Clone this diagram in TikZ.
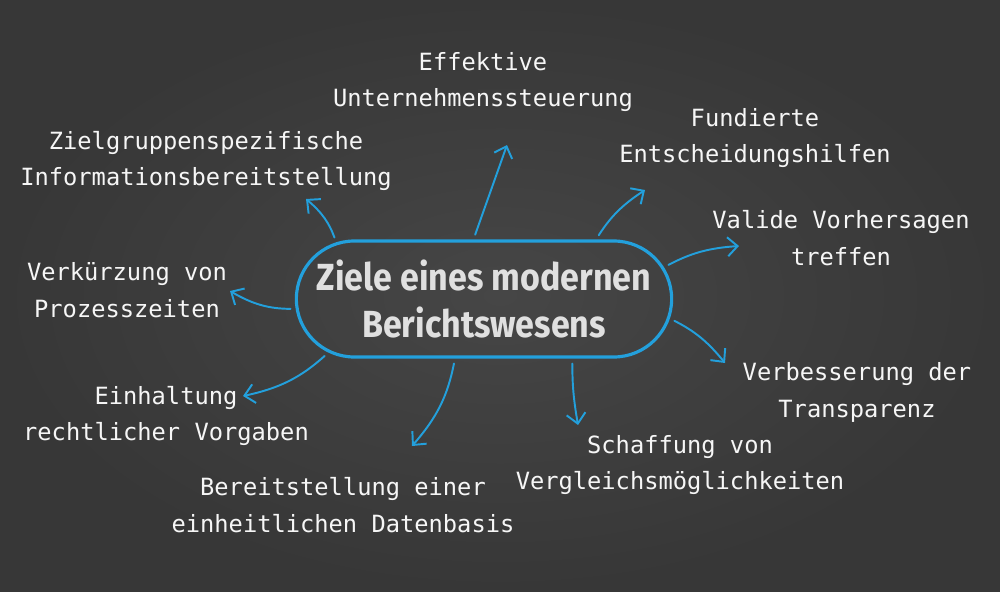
\documentclass[tikz,border=0pt]{standalone}
\usepackage{fontspec}
\usetikzlibrary{arrows.meta, shapes.misc, calc}
\newfontfamily\chalkfont{DejaVu Sans Mono}
\newfontfamily\chalkhead{Fira Sans}[FakeStretch=0.9]
\definecolor{board}{RGB}{55,55,55}
\definecolor{boardlight}{RGB}{70,70,70}
\definecolor{chalkblue}{RGB}{35,160,220}
\definecolor{chalkwhite}{RGB}{246,246,246}
\tikzset{
  goal/.style={font=\chalkfont\fontsize{13.5pt}{21pt}\selectfont, text=chalkwhite, align=center, inner sep=0pt}
}
\tikzset{
  chalkarrow/.style={draw=chalkblue, line width=1.1pt, line cap=round,
    -{Straight Barb[length=2mm,width=3.8mm]}, shorten <=1mm}
}

\begin{document}
\begin{tikzpicture}[x=0.2mm, y=-0.2mm]
  % board
  \shade[inner color=boardlight, outer color=board] (0,0) rectangle (1000,591);
  \useasboundingbox (0,0) rectangle (1000,591);
  % centre
  \node[rounded rectangle, draw=chalkblue, line width=1.8pt,
    minimum width=77.4mm, minimum height=23.2mm, align=center, text=white!88!black,
    font=\chalkhead\bfseries\fontsize{21.5pt}{27.3pt}\selectfont] (ziel) at (484,299)
    {Ziele eines modernen\\Berichtswesens};
  % goals
  \node[goal] (steuerung) at (483,82) {Effektive\\Unternehmenssteuerung};
  \node[goal] (zielgruppe) at (206,161) {Zielgruppenspezifische\\Informationsbereitstellung};
  \node[goal] (entscheidung) at (755,138) {Fundierte\\Entscheidungshilfen};
  \node[goal] (vorhersage) at (841,238) {Valide Vorhersagen\\treffen};
  \node[goal] (prozess) at (127,290) {Verkürzung von\\Prozesszeiten};
  \node[goal] (transparenz) at (857,392) {Verbesserung der\\Transparenz};
  \node[goal] (recht) at (166,416) {Einhaltung\\rechtlicher Vorgaben};
  \node[goal] (vergleich) at (680,465) {Schaffung von\\Vergleichsmöglichkeiten};
  \node[goal] (datenbasis) at (343,505) {Bereitstellung einer\\einheitlichen Datenbasis};
  % arrow tips
  \coordinate (tipSteuerung) at (507,145);
  \coordinate (tipEntscheidung) at (645,190);
  \coordinate (tipZielgruppe) at (306,199);
  \coordinate (tipVorhersage) at (739,246);
  \coordinate (tipProzess) at (230,291);
  \coordinate (tipTransparenz) at (725,363);
  \coordinate (tipRecht) at (243,396);
  \coordinate (tipDatenbasis) at (412,446);
  \coordinate (tipVergleich) at (578,425);
  % arrows
  \draw[chalkarrow] (ziel.100) -- (tipSteuerung);
  \draw[chalkarrow] (ziel.28) to[bend left=12] (tipEntscheidung);
  \draw[chalkarrow] (ziel.159) to[bend right=15] (tipZielgruppe);
  \draw[chalkarrow] (ziel.10) to[bend left=12] (tipVorhersage);
  \draw[chalkarrow] (ziel.183) to[bend left=15] (tipProzess);
  \draw[chalkarrow] (ziel.-6) to[bend left=12] (tipTransparenz);
  \draw[chalkarrow] (ziel.199) to[bend left=15] (tipRecht);
  \draw[chalkarrow] (ziel.244) to[bend left=15] (tipDatenbasis);
  \draw[chalkarrow] (ziel.-34) to[bend right=5] (tipVergleich);
\end{tikzpicture}
\end{document}
